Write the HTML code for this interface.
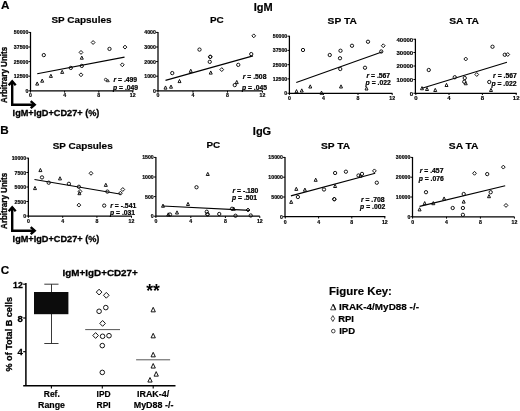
<!DOCTYPE html>
<html lang="en"><head><meta charset="utf-8"><title>Figure</title>
<style>html,body{margin:0;padding:0;background:#fff}body{width:520px;height:411px;overflow:hidden}svg{display:block}svg text{font-family:"Liberation Sans", Arial, Helvetica, sans-serif;font-weight:bold;fill:#000}.ax{fill:none;stroke:#000;stroke-width:1.25}.tk{fill:none;stroke:#000;stroke-width:1}.rl{fill:none;stroke:#000;stroke-width:1.1}.mk{fill:none;stroke:#0a0a0a;stroke-width:0.95;stroke-linejoin:round}.tl{stroke:#000;stroke-width:0.18}.tb{stroke:#000;stroke-width:0.3}.rp{stroke:#000;stroke-width:0.22}.ar{fill:none;stroke:#000;stroke-width:2.4;stroke-linejoin:miter}</style></head><body>
<svg width="520" height="411" viewBox="0 0 520 411">
<rect width="520" height="411" fill="#fff"/>
<text x="1.00" y="9.30" font-size="11.7" class="tl">A</text>
<text x="0.30" y="134.30" font-size="11.7" class="tl">B</text>
<text x="0.70" y="274.00" font-size="11.7" class="tl">C</text>
<text x="263.20" y="10.80" font-size="11" text-anchor="middle" class="tl">IgM</text>
<text x="262.00" y="135.40" font-size="11" text-anchor="middle" class="tl">IgG</text>
<!-- SP Capsules -->
<g transform="translate(0 0)">
<text x="81.50" y="23.00" font-size="9.9" text-anchor="middle" textLength="59.97" lengthAdjust="spacingAndGlyphs" class="tl">SP Capsules</text>
<path d="M30.50 32.00V90.85H133.60" class="ax"/>
<path d="M28.50 32.40H30.50" class="tk"/>
<text x="28.30" y="34.48" font-size="5.2" text-anchor="end" class="tl">50000</text>
<path d="M28.50 47.00H30.50" class="tk"/>
<text x="28.30" y="49.08" font-size="5.2" text-anchor="end" class="tl">37500</text>
<path d="M28.50 61.60H30.50" class="tk"/>
<text x="28.30" y="63.68" font-size="5.2" text-anchor="end" class="tl">25000</text>
<path d="M28.50 76.20H30.50" class="tk"/>
<text x="28.30" y="78.28" font-size="5.2" text-anchor="end" class="tl">12500</text>
<path d="M28.50 90.80H30.50" class="tk"/>
<text x="28.30" y="92.88" font-size="5.2" text-anchor="end" class="tl">0</text>
<path d="M30.40 90.85v1.8" class="tk"/>
<text x="30.40" y="97.37" font-size="5.2" text-anchor="middle" class="tl">0</text>
<path d="M64.60 90.85v1.8" class="tk"/>
<text x="64.60" y="97.37" font-size="5.2" text-anchor="middle" class="tl">4</text>
<path d="M98.80 90.85v1.8" class="tk"/>
<text x="98.80" y="97.37" font-size="5.2" text-anchor="middle" class="tl">8</text>
<path d="M132.70 90.85v1.8" class="tk"/>
<text x="132.70" y="97.37" font-size="5.2" text-anchor="middle" class="tl">12</text>
<path d="M37.20 73.70L124.50 57.10" class="rl"/>
<g class="mk">
<path d="M35.70 85.10L37.20 81.95L38.70 85.10Z"/>
<path d="M40.70 82.20L42.20 79.05L43.70 82.20Z"/>
<path d="M49.40 77.40L50.90 74.25L52.40 77.40Z"/>
<path d="M60.70 73.40L62.20 70.25L63.70 73.40Z"/>
<path d="M80.30 59.20L81.80 56.05L83.30 59.20Z"/>
<circle cx="43.80" cy="55.10" r="1.65"/>
<circle cx="70.80" cy="67.90" r="1.65"/>
<circle cx="81.80" cy="65.90" r="1.65"/>
<path d="M79.11 52.40L81.00 50.45L82.89 52.40L81.00 54.35Z"/>
<path d="M79.11 74.80L81.00 72.85L82.89 74.80L81.00 76.75Z"/>
<path d="M91.21 42.50L93.10 40.55L94.99 42.50L93.10 44.45Z"/>
<circle cx="109.50" cy="48.90" r="1.65"/>
<path d="M123.11 47.10L125.00 45.15L126.89 47.10L125.00 49.05Z"/>
<path d="M120.41 64.80L122.30 62.85L124.19 64.80L122.30 66.75Z"/>
</g>
<text x="113.50" y="81.90" font-size="6.8" class="rp"><tspan font-style="italic">r</tspan> = .499</text>
<text x="113.00" y="89.60" font-size="6.8" class="rp"><tspan font-style="italic">p</tspan> = .049</text>
</g>
<g class="mk" style="stroke-width:0.8"><circle cx="105.7" cy="79.6" r="1.3"/><path d="M106.4 81.7L107.8 79.3L109.3 81.7Z"/></g>
<!-- PC -->
<g transform="translate(0.5 0.1)">
<text x="216.40" y="23.40" font-size="9.9" text-anchor="middle" textLength="13.75" lengthAdjust="spacingAndGlyphs" class="tl">PC</text>
<path d="M157.50 31.90V90.75H261.80" class="ax"/>
<path d="M155.50 32.30H157.50" class="tk"/>
<text x="155.30" y="34.38" font-size="5.2" text-anchor="end" class="tl">4000</text>
<path d="M155.50 46.90H157.50" class="tk"/>
<text x="155.30" y="48.98" font-size="5.2" text-anchor="end" class="tl">3000</text>
<path d="M155.50 61.50H157.50" class="tk"/>
<text x="155.30" y="63.58" font-size="5.2" text-anchor="end" class="tl">2000</text>
<path d="M155.50 76.10H157.50" class="tk"/>
<text x="155.30" y="78.18" font-size="5.2" text-anchor="end" class="tl">1000</text>
<path d="M155.50 90.75H157.50" class="tk"/>
<text x="155.30" y="92.83" font-size="5.2" text-anchor="end" class="tl">0</text>
<path d="M157.50 90.75v1.8" class="tk"/>
<text x="157.50" y="97.37" font-size="5.2" text-anchor="middle" class="tl">0</text>
<path d="M192.50 90.75v1.8" class="tk"/>
<text x="192.50" y="97.37" font-size="5.2" text-anchor="middle" class="tl">4</text>
<path d="M227.00 90.75v1.8" class="tk"/>
<text x="227.00" y="97.37" font-size="5.2" text-anchor="middle" class="tl">8</text>
<path d="M262.00 90.75v1.8" class="tk"/>
<text x="262.00" y="97.37" font-size="5.2" text-anchor="middle" class="tl">12</text>
<path d="M165.00 80.25L252.50 55.75" class="rl"/>
<g class="mk">
<path d="M163.50 89.00L165.00 85.85L166.50 89.00Z"/>
<path d="M169.00 88.10L170.50 84.95L172.00 88.10Z"/>
<path d="M177.50 82.50L179.00 79.35L180.50 82.50Z"/>
<path d="M188.75 72.25L190.25 69.10L191.75 72.25Z"/>
<path d="M208.75 74.00L210.25 70.85L211.75 74.00Z"/>
<path d="M234.75 83.50L236.25 80.35L237.75 83.50Z"/>
<circle cx="171.75" cy="73.00" r="1.65"/>
<circle cx="199.00" cy="49.50" r="1.65"/>
<circle cx="209.25" cy="61.75" r="1.65"/>
<circle cx="209.75" cy="56.75" r="1.65"/>
<path d="M207.86 56.75L209.75 54.80L211.64 56.75L209.75 58.70Z"/>
<path d="M219.36 69.50L221.25 67.55L223.14 69.50L221.25 71.45Z"/>
<circle cx="237.75" cy="64.75" r="1.65"/>
<circle cx="234.25" cy="85.00" r="1.65"/>
<circle cx="250.75" cy="54.00" r="1.65"/>
<path d="M251.36 35.75L253.25 33.80L255.14 35.75L253.25 37.70Z"/>
</g>
<text x="242.30" y="79.40" font-size="6.8" class="rp"><tspan font-style="italic">r</tspan> = .508</text>
<text x="241.40" y="89.50" font-size="6.8" class="rp"><tspan font-style="italic">p</tspan> = .045</text>
</g>
<!-- SP TA -->
<g transform="translate(0 0)">
<text x="342.20" y="23.50" font-size="9.9" text-anchor="middle" textLength="29.16" lengthAdjust="spacingAndGlyphs" class="tl">SP TA</text>
<path d="M289.40 35.80V93.25H392.40" class="ax"/>
<path d="M287.40 36.20H289.40" class="tk"/>
<text x="287.20" y="38.28" font-size="5.2" text-anchor="end" class="tl">50000</text>
<path d="M287.40 50.40H289.40" class="tk"/>
<text x="287.20" y="52.48" font-size="5.2" text-anchor="end" class="tl">37500</text>
<path d="M287.40 64.70H289.40" class="tk"/>
<text x="287.20" y="66.78" font-size="5.2" text-anchor="end" class="tl">25000</text>
<path d="M287.40 78.90H289.40" class="tk"/>
<text x="287.20" y="80.98" font-size="5.2" text-anchor="end" class="tl">12500</text>
<path d="M287.40 93.25H289.40" class="tk"/>
<text x="287.20" y="95.33" font-size="5.2" text-anchor="end" class="tl">0</text>
<path d="M289.40 93.25v1.8" class="tk"/>
<text x="289.40" y="99.87" font-size="5.2" text-anchor="middle" class="tl">0</text>
<path d="M323.40 93.25v1.8" class="tk"/>
<text x="323.40" y="99.87" font-size="5.2" text-anchor="middle" class="tl">4</text>
<path d="M358.00 93.25v1.8" class="tk"/>
<text x="358.00" y="99.87" font-size="5.2" text-anchor="middle" class="tl">8</text>
<path d="M392.20 93.25v1.8" class="tk"/>
<text x="392.20" y="99.87" font-size="5.2" text-anchor="middle" class="tl">12</text>
<path d="M296.25 82.50L382.50 51.75" class="rl"/>
<g class="mk">
<path d="M295.00 92.75L296.50 89.60L298.00 92.75Z"/>
<path d="M300.25 92.00L301.75 88.85L303.25 92.00Z"/>
<path d="M308.75 88.00L310.25 84.85L311.75 88.00Z"/>
<path d="M320.00 94.25L321.50 91.10L323.00 94.25Z"/>
<path d="M339.50 88.00L341.00 84.85L342.50 88.00Z"/>
<path d="M365.00 90.00L366.50 86.85L368.00 90.00Z"/>
<circle cx="303.00" cy="50.00" r="1.65"/>
<circle cx="329.75" cy="55.00" r="1.65"/>
<circle cx="340.50" cy="50.75" r="1.65"/>
<circle cx="340.00" cy="58.25" r="1.65"/>
<circle cx="340.25" cy="69.00" r="1.65"/>
<circle cx="352.00" cy="45.75" r="1.65"/>
<circle cx="365.00" cy="67.75" r="1.65"/>
<circle cx="368.00" cy="41.75" r="1.65"/>
<circle cx="381.25" cy="51.50" r="1.65"/>
<path d="M381.36 45.75L383.25 43.80L385.14 45.75L383.25 47.70Z"/>
</g>
<text x="366.50" y="77.50" font-size="6.8" class="rp"><tspan font-style="italic">r</tspan> = .567</text>
<text x="365.60" y="84.60" font-size="6.8" class="rp"><tspan font-style="italic">p</tspan> = .022</text>
</g>
<!-- SA TA -->
<g transform="translate(0 0)">
<text x="464.10" y="23.50" font-size="9.9" text-anchor="middle" textLength="29.70" lengthAdjust="spacingAndGlyphs" class="tl">SA TA</text>
<path d="M415.40 38.85V93.25H516.80" class="ax"/>
<path d="M413.40 39.25H415.40" class="tk"/>
<text x="413.20" y="41.65" font-size="6.0" text-anchor="end" class="tl">40000</text>
<path d="M413.40 52.50H415.40" class="tk"/>
<text x="413.20" y="54.90" font-size="6.0" text-anchor="end" class="tl">30000</text>
<path d="M413.40 66.00H415.40" class="tk"/>
<text x="413.20" y="68.40" font-size="6.0" text-anchor="end" class="tl">20000</text>
<path d="M413.40 79.50H415.40" class="tk"/>
<text x="413.20" y="81.90" font-size="6.0" text-anchor="end" class="tl">10000</text>
<path d="M413.40 93.25H415.40" class="tk"/>
<text x="413.20" y="95.65" font-size="6.0" text-anchor="end" class="tl">0</text>
<path d="M415.80 93.25v1.8" class="tk"/>
<text x="415.80" y="100.36" font-size="6.0" text-anchor="middle" class="tl">0</text>
<path d="M449.00 93.25v1.8" class="tk"/>
<text x="449.00" y="100.36" font-size="6.0" text-anchor="middle" class="tl">4</text>
<path d="M482.40 93.25v1.8" class="tk"/>
<text x="482.40" y="100.36" font-size="6.0" text-anchor="middle" class="tl">8</text>
<path d="M516.20 93.25v1.8" class="tk"/>
<text x="516.20" y="100.36" font-size="6.0" text-anchor="middle" class="tl">12</text>
<path d="M422.00 88.25L507.00 62.25" class="rl"/>
<g class="mk">
<path d="M420.50 89.75L422.00 86.60L423.50 89.75Z"/>
<path d="M425.50 90.50L427.00 87.35L428.50 90.50Z"/>
<path d="M433.75 91.50L435.25 88.35L436.75 91.50Z"/>
<path d="M445.00 86.50L446.50 83.35L448.00 86.50Z"/>
<path d="M464.25 84.75L465.75 81.60L467.25 84.75Z"/>
<path d="M489.50 91.50L491.00 88.35L492.50 91.50Z"/>
<circle cx="428.75" cy="70.00" r="1.65"/>
<circle cx="454.75" cy="77.25" r="1.65"/>
<circle cx="464.75" cy="78.00" r="1.65"/>
<circle cx="464.25" cy="81.75" r="1.65"/>
<path d="M463.86 59.00L465.75 57.05L467.64 59.00L465.75 60.95Z"/>
<path d="M474.86 74.50L476.75 72.55L478.64 74.50L476.75 76.45Z"/>
<circle cx="489.25" cy="82.00" r="1.65"/>
<circle cx="492.50" cy="46.75" r="1.65"/>
<circle cx="504.75" cy="54.75" r="1.65"/>
<path d="M505.86 54.50L507.75 52.55L509.64 54.50L507.75 56.45Z"/>
</g>
<text x="493.10" y="78.10" font-size="6.8" class="rp"><tspan font-style="italic">r</tspan> = .567</text>
<text x="491.40" y="85.70" font-size="6.8" class="rp"><tspan font-style="italic">p</tspan> = .022</text>
</g>
<text transform="translate(7.0 102.9) rotate(-90)" class="tb" font-size="8.6" textLength="56" lengthAdjust="spacingAndGlyphs">Arbitrary Units</text>
<path d="M12.20 81.00V104.70H34.90" class="ar"/>
<path d="M8.70 85.20L12.20 81.20L15.70 85.20" class="ar"/>
<path d="M30.70 101.20L34.70 104.70L30.70 108.20" class="ar"/>
<text x="12.60" y="116.30" font-size="9.6" textLength="86.80" lengthAdjust="spacingAndGlyphs" class="tb">IgM+IgD+CD27+ (%)</text>
<!-- SP Capsules -->
<g transform="translate(0 0)">
<text x="82.70" y="149.00" font-size="9.9" text-anchor="middle" textLength="59.97" lengthAdjust="spacingAndGlyphs" class="tl">SP Capsules</text>
<path d="M28.35 157.70V216.00H131.80" class="ax"/>
<path d="M26.35 158.10H28.35" class="tk"/>
<text x="26.15" y="160.18" font-size="5.2" text-anchor="end" class="tl">10000</text>
<path d="M26.35 172.50H28.35" class="tk"/>
<text x="26.15" y="174.58" font-size="5.2" text-anchor="end" class="tl">7500</text>
<path d="M26.35 187.00H28.35" class="tk"/>
<text x="26.15" y="189.08" font-size="5.2" text-anchor="end" class="tl">5000</text>
<path d="M26.35 201.50H28.35" class="tk"/>
<text x="26.15" y="203.58" font-size="5.2" text-anchor="end" class="tl">2500</text>
<path d="M26.35 216.00H28.35" class="tk"/>
<text x="26.15" y="218.08" font-size="5.2" text-anchor="end" class="tl">0</text>
<path d="M28.40 216.00v1.8" class="tk"/>
<text x="28.40" y="222.67" font-size="5.2" text-anchor="middle" class="tl">0</text>
<path d="M62.70 216.00v1.8" class="tk"/>
<text x="62.70" y="222.67" font-size="5.2" text-anchor="middle" class="tl">4</text>
<path d="M96.90 216.00v1.8" class="tk"/>
<text x="96.90" y="222.67" font-size="5.2" text-anchor="middle" class="tl">8</text>
<path d="M131.50 216.00v1.8" class="tk"/>
<text x="131.50" y="222.67" font-size="5.2" text-anchor="middle" class="tl">12</text>
<path d="M34.50 179.50L121.20 194.30" class="rl"/>
<g class="mk">
<path d="M33.50 189.60L35.00 186.45L36.50 189.60Z"/>
<path d="M38.90 171.60L40.40 168.45L41.90 171.60Z"/>
<path d="M58.50 179.90L60.00 176.75L61.50 179.90Z"/>
<path d="M77.90 194.70L79.40 191.55L80.90 194.70Z"/>
<path d="M104.30 186.40L105.80 183.25L107.30 186.40Z"/>
<circle cx="42.00" cy="177.40" r="1.65"/>
<circle cx="48.70" cy="182.70" r="1.65"/>
<circle cx="68.90" cy="183.80" r="1.65"/>
<circle cx="78.90" cy="186.80" r="1.65"/>
<path d="M78.11 191.40L80.00 189.45L81.89 191.40L80.00 193.35Z"/>
<path d="M77.01 205.10L78.90 203.15L80.79 205.10L78.90 207.05Z"/>
<path d="M89.11 173.30L91.00 171.35L92.89 173.30L91.00 175.25Z"/>
<circle cx="104.20" cy="205.60" r="1.65"/>
<circle cx="107.40" cy="191.60" r="1.65"/>
<path d="M118.51 193.20L120.40 191.25L122.29 193.20L120.40 195.15Z"/>
<path d="M120.91 189.50L122.80 187.55L124.69 189.50L122.80 191.45Z"/>
</g>
<text x="110.30" y="207.80" font-size="6.8" class="rp"><tspan font-style="italic">r</tspan> = -.541</text>
<text x="110.00" y="215.40" font-size="6.8" class="rp"><tspan font-style="italic">p</tspan> = .031</text>
</g>
<!-- PC -->
<g transform="translate(0 0)">
<text x="213.40" y="147.90" font-size="9.9" text-anchor="middle" textLength="13.75" lengthAdjust="spacingAndGlyphs" class="tl">PC</text>
<path d="M155.90 157.00V216.20H259.80" class="ax"/>
<path d="M153.90 157.40H155.90" class="tk"/>
<text x="153.70" y="159.48" font-size="5.2" text-anchor="end" class="tl">1500</text>
<path d="M153.90 177.00H155.90" class="tk"/>
<text x="153.70" y="179.08" font-size="5.2" text-anchor="end" class="tl">1000</text>
<path d="M153.90 196.60H155.90" class="tk"/>
<text x="153.70" y="198.68" font-size="5.2" text-anchor="end" class="tl">500</text>
<path d="M153.90 216.20H155.90" class="tk"/>
<text x="153.70" y="218.28" font-size="5.2" text-anchor="end" class="tl">0</text>
<path d="M155.90 216.20v1.8" class="tk"/>
<text x="155.90" y="222.77" font-size="5.2" text-anchor="middle" class="tl">0</text>
<path d="M190.80 216.20v1.8" class="tk"/>
<text x="190.80" y="222.77" font-size="5.2" text-anchor="middle" class="tl">4</text>
<path d="M225.40 216.20v1.8" class="tk"/>
<text x="225.40" y="222.77" font-size="5.2" text-anchor="middle" class="tl">8</text>
<path d="M259.80 216.20v1.8" class="tk"/>
<text x="259.80" y="222.77" font-size="5.2" text-anchor="middle" class="tl">12</text>
<path d="M162.50 206.00L250.00 210.40" class="rl"/>
<g class="mk">
<path d="M161.50 207.25L163.00 204.10L164.50 207.25Z"/>
<path d="M166.75 216.00L168.25 212.85L169.75 216.00Z"/>
<path d="M175.50 214.00L177.00 210.85L178.50 214.00Z"/>
<path d="M186.50 205.50L188.00 202.35L189.50 205.50Z"/>
<path d="M206.25 175.50L207.75 172.35L209.25 175.50Z"/>
<path d="M232.25 210.25L233.75 207.10L235.25 210.25Z"/>
<circle cx="170.00" cy="214.50" r="1.65"/>
<circle cx="196.50" cy="187.25" r="1.65"/>
<circle cx="206.75" cy="211.75" r="1.65"/>
<circle cx="207.50" cy="214.25" r="1.65"/>
<path d="M205.61 214.25L207.50 212.30L209.39 214.25L207.50 216.20Z"/>
<circle cx="219.25" cy="214.00" r="1.65"/>
<circle cx="232.00" cy="208.75" r="1.65"/>
<circle cx="235.50" cy="215.75" r="1.65"/>
<path d="M246.11 210.00L248.00 208.05L249.89 210.00L248.00 211.95Z"/>
<circle cx="250.75" cy="215.50" r="1.65"/>
</g>
<text x="232.50" y="192.90" font-size="6.8" class="rp"><tspan font-style="italic">r</tspan> = -.180</text>
<text x="232.00" y="200.30" font-size="6.8" class="rp"><tspan font-style="italic">p</tspan> = .501</text>
</g>
<!-- SP TA -->
<g transform="translate(0 0)">
<text x="335.60" y="149.10" font-size="9.9" text-anchor="middle" textLength="29.16" lengthAdjust="spacingAndGlyphs" class="tl">SP TA</text>
<path d="M285.00 157.00V216.70H385.40" class="ax"/>
<path d="M283.00 157.40H285.00" class="tk"/>
<text x="282.80" y="159.48" font-size="5.2" text-anchor="end" class="tl">15000</text>
<path d="M283.00 177.20H285.00" class="tk"/>
<text x="282.80" y="179.28" font-size="5.2" text-anchor="end" class="tl">10000</text>
<path d="M283.00 197.00H285.00" class="tk"/>
<text x="282.80" y="199.08" font-size="5.2" text-anchor="end" class="tl">5000</text>
<path d="M283.00 216.70H285.00" class="tk"/>
<text x="282.80" y="218.78" font-size="5.2" text-anchor="end" class="tl">0</text>
<path d="M285.30 216.70v1.8" class="tk"/>
<text x="285.30" y="223.87" font-size="5.2" text-anchor="middle" class="tl">0</text>
<path d="M318.60 216.70v1.8" class="tk"/>
<text x="318.60" y="223.87" font-size="5.2" text-anchor="middle" class="tl">4</text>
<path d="M351.80 216.70v1.8" class="tk"/>
<text x="351.80" y="223.87" font-size="5.2" text-anchor="middle" class="tl">8</text>
<path d="M384.80 216.70v1.8" class="tk"/>
<text x="384.80" y="223.87" font-size="5.2" text-anchor="middle" class="tl">12</text>
<path d="M290.90 195.90L375.20 173.30" class="rl"/>
<g class="mk">
<path d="M289.70 203.40L291.20 200.25L292.70 203.40Z"/>
<path d="M294.80 190.40L296.30 187.25L297.80 190.40Z"/>
<path d="M303.40 191.20L304.90 188.05L306.40 191.20Z"/>
<path d="M314.20 181.30L315.70 178.15L317.20 181.30Z"/>
<path d="M333.60 187.50L335.10 184.35L336.60 187.50Z"/>
<path d="M358.90 177.20L360.40 174.05L361.90 177.20Z"/>
<circle cx="297.90" cy="197.00" r="1.65"/>
<circle cx="324.00" cy="189.50" r="1.65"/>
<circle cx="335.10" cy="173.00" r="1.65"/>
<circle cx="334.30" cy="199.20" r="1.65"/>
<path d="M332.41 199.20L334.30 197.25L336.19 199.20L334.30 201.15Z"/>
<circle cx="345.90" cy="171.70" r="1.65"/>
<circle cx="358.50" cy="175.50" r="1.65"/>
<circle cx="362.00" cy="173.90" r="1.65"/>
<path d="M372.51 170.90L374.40 168.95L376.29 170.90L374.40 172.85Z"/>
<circle cx="376.80" cy="182.70" r="1.65"/>
</g>
<text x="360.90" y="202.00" font-size="6.8" class="rp"><tspan font-style="italic">r</tspan> = .708</text>
<text x="360.10" y="209.30" font-size="6.8" class="rp"><tspan font-style="italic">p</tspan> = .002</text>
</g>
<!-- SA TA -->
<g transform="translate(0 0)">
<text x="463.70" y="148.70" font-size="9.9" text-anchor="middle" textLength="29.70" lengthAdjust="spacingAndGlyphs" class="tl">SA TA</text>
<path d="M412.50 157.00V216.80H514.40" class="ax"/>
<path d="M410.50 157.40H412.50" class="tk"/>
<text x="410.30" y="159.48" font-size="5.2" text-anchor="end" class="tl">30000</text>
<path d="M410.50 177.20H412.50" class="tk"/>
<text x="410.30" y="179.28" font-size="5.2" text-anchor="end" class="tl">20000</text>
<path d="M410.50 197.00H412.50" class="tk"/>
<text x="410.30" y="199.08" font-size="5.2" text-anchor="end" class="tl">10000</text>
<path d="M410.50 216.70H412.50" class="tk"/>
<text x="410.30" y="218.78" font-size="5.2" text-anchor="end" class="tl">0</text>
<path d="M412.60 216.80v1.8" class="tk"/>
<text x="412.60" y="223.77" font-size="5.2" text-anchor="middle" class="tl">0</text>
<path d="M446.50 216.80v1.8" class="tk"/>
<text x="446.50" y="223.77" font-size="5.2" text-anchor="middle" class="tl">4</text>
<path d="M480.40 216.80v1.8" class="tk"/>
<text x="480.40" y="223.77" font-size="5.2" text-anchor="middle" class="tl">8</text>
<path d="M514.40 216.80v1.8" class="tk"/>
<text x="514.40" y="223.77" font-size="5.2" text-anchor="middle" class="tl">12</text>
<path d="M419.60 206.40L505.20 185.70" class="rl"/>
<g class="mk">
<path d="M418.10 210.90L419.60 207.75L421.10 210.90Z"/>
<path d="M423.20 204.70L424.70 201.55L426.20 204.70Z"/>
<path d="M431.80 204.70L433.30 201.55L434.80 204.70Z"/>
<path d="M442.60 200.10L444.10 196.95L445.60 200.10Z"/>
<path d="M462.20 203.10L463.70 199.95L465.20 203.10Z"/>
<path d="M487.50 197.70L489.00 194.55L490.50 197.70Z"/>
<circle cx="426.00" cy="192.20" r="1.65"/>
<circle cx="452.70" cy="208.00" r="1.65"/>
<circle cx="462.90" cy="208.00" r="1.65"/>
<circle cx="462.90" cy="214.80" r="1.65"/>
<circle cx="463.70" cy="194.00" r="1.65"/>
<path d="M472.61 173.30L474.50 171.35L476.39 173.30L474.50 175.25Z"/>
<circle cx="487.20" cy="174.10" r="1.65"/>
<circle cx="490.70" cy="192.20" r="1.65"/>
<path d="M501.41 167.10L503.30 165.15L505.19 167.10L503.30 169.05Z"/>
<path d="M504.11 205.40L506.00 203.45L507.89 205.40L506.00 207.35Z"/>
</g>
<text x="419.80" y="173.00" font-size="6.8" class="rp"><tspan font-style="italic">r</tspan> = .457</text>
<text x="418.70" y="180.70" font-size="6.8" class="rp"><tspan font-style="italic">p</tspan> = .076</text>
</g>
<text transform="translate(7.0 228.9) rotate(-90)" class="tb" font-size="8.6" textLength="56" lengthAdjust="spacingAndGlyphs">Arbitrary Units</text>
<path d="M12.20 207.00V230.70H34.90" class="ar"/>
<path d="M8.70 211.20L12.20 207.20L15.70 211.20" class="ar"/>
<path d="M30.70 227.20L34.70 230.70L30.70 234.20" class="ar"/>
<text x="12.60" y="242.30" font-size="9.6" textLength="86.80" lengthAdjust="spacingAndGlyphs" class="tb">IgM+IgD+CD27+ (%)</text>
<!-- Panel C -->
<text x="62.60" y="275.50" font-size="9.4" textLength="75.20" lengthAdjust="spacingAndGlyphs" class="tb">IgM+IgD+CD27+</text>
<path d="M25.9 283.0V385.85H175.5M23.2 385.85H25.9" class="ax" style="stroke-width:1.5"/>
<path d="M23.2 284.2H25.9" class="tk" style="stroke-width:1.2"/>
<text x="22.80" y="287.90" font-size="9.6" text-anchor="end" textLength="9.70" lengthAdjust="spacingAndGlyphs" class="tb">12</text>
<path d="M23.2 318.0H25.9" class="tk" style="stroke-width:1.2"/>
<text x="22.80" y="321.70" font-size="9.6" text-anchor="end" class="tb">8</text>
<path d="M23.2 351.7H25.9" class="tk" style="stroke-width:1.2"/>
<text x="22.80" y="355.40" font-size="9.6" text-anchor="end" class="tb">4</text>
<path d="M51.4 385.85v2.6" class="tk" style="stroke-width:1.1"/>
<path d="M102.3 385.85v2.6" class="tk" style="stroke-width:1.1"/>
<path d="M153.2 385.85v2.6" class="tk" style="stroke-width:1.1"/>
<text transform="translate(11.8 371.5) rotate(-90)" font-size="9" class="tb" textLength="74.5" lengthAdjust="spacingAndGlyphs">% of Total B cells</text>
<path d="M51.5 284.2V343.5M44.3 284.2H58.5M44.3 343.5H58.5" class="tk" style="stroke-width:0.9;stroke:#222"/>
<rect x="34" y="292" width="34.4" height="22.2" fill="#0c0c0c"/>
<g class="mk" style="stroke-width:0.95">
<path d="M96.29 292.10L99.10 289.20L101.91 292.10L99.10 295.00Z"/>
<path d="M103.49 295.30L106.30 292.40L109.11 295.30L106.30 298.20Z"/>
<circle cx="105.80" cy="307.60" r="2.3"/>
<circle cx="99.10" cy="311.30" r="2.3"/>
<path d="M99.79 323.40L102.60 320.50L105.41 323.40L102.60 326.30Z"/>
<path d="M92.79 335.50L95.60 332.60L98.41 335.50L95.60 338.40Z"/>
<circle cx="102.60" cy="336.30" r="2.3"/>
<circle cx="109.00" cy="335.70" r="2.3"/>
<circle cx="102.30" cy="345.60" r="2.3"/>
<circle cx="102.30" cy="372.40" r="2.3"/>
<path d="M151.05 311.85L153.20 307.33L155.35 311.85Z"/>
<path d="M151.05 337.85L153.20 333.33L155.35 337.85Z"/>
<path d="M151.05 356.85L153.20 352.33L155.35 356.85Z"/>
<path d="M151.05 368.05L153.20 363.53L155.35 368.05Z"/>
<path d="M154.05 376.15L156.20 371.63L158.35 376.15Z"/>
<path d="M147.85 382.05L150.00 377.53L152.15 382.05Z"/>
</g>
<path d="M85.2 329.6H120M136.1 359.8H170.1" class="tk" style="stroke-width:0.9;stroke:#444"/>
<text x="153.00" y="296.90" font-size="17.5" text-anchor="middle">**</text>
<text x="43.80" y="396.70" font-size="8.8" textLength="16.00" lengthAdjust="spacingAndGlyphs" class="tl">Ref.</text>
<text x="38.10" y="407.70" font-size="8.8" textLength="26.90" lengthAdjust="spacingAndGlyphs" class="tl">Range</text>
<text x="96.60" y="396.70" font-size="8.8" textLength="14.10" lengthAdjust="spacingAndGlyphs" class="tl">IPD</text>
<text x="96.60" y="407.70" font-size="8.8" textLength="14.10" lengthAdjust="spacingAndGlyphs" class="tl">RPI</text>
<text x="137.00" y="396.70" font-size="8.8" textLength="32.20" lengthAdjust="spacingAndGlyphs" class="tl">IRAK-4/</text>
<text x="133.70" y="407.70" font-size="8.8" textLength="39.70" lengthAdjust="spacingAndGlyphs" class="tl">MyD88 -/-</text>
<!-- Figure Key -->
<text x="329.10" y="295.20" font-size="11" textLength="62.80" lengthAdjust="spacingAndGlyphs" class="tl">Figure Key:</text>
<g class="mk" style="stroke-width:0.75"><path d="M330.6 309.8L333.1 304.2L335.8 309.8Z"/><path d="M333.3 304.6L335.5 309.5" style="stroke-width:1.1"/><path d="M331.1 318.55L332.85 315.6L334.6 318.55L332.85 321.5Z"/><circle cx="333.3" cy="331.1" r="1.8"/></g>
<text x="339.00" y="309.90" font-size="9.7" textLength="80.00" lengthAdjust="spacingAndGlyphs" class="tl">IRAK-4/MyD88 -/-</text>
<text x="338.20" y="321.70" font-size="9.7" textLength="15.80" lengthAdjust="spacingAndGlyphs" class="tl">RPI</text>
<text x="339.20" y="333.50" font-size="9.7" textLength="15.90" lengthAdjust="spacingAndGlyphs" class="tl">IPD</text>
</svg></body></html>
